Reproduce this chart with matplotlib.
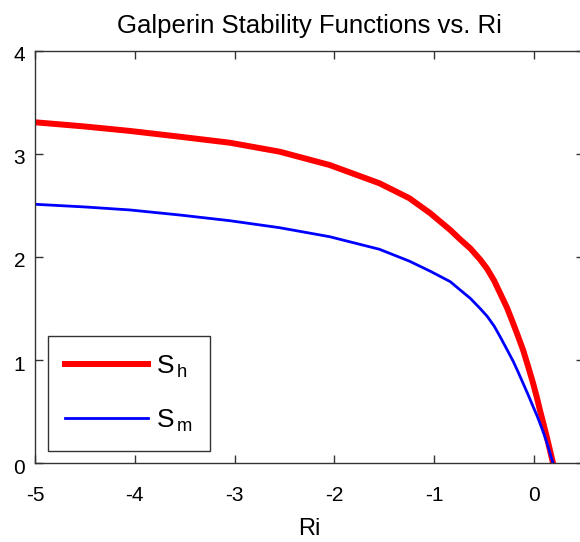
import matplotlib
matplotlib.use("Agg")
import matplotlib.pyplot as plt
from matplotlib.transforms import ScaledTranslation

plt.rcParams['font.family'] = ['Liberation Sans', 'DejaVu Sans']
plt.rcParams['axes.unicode_minus'] = False
plt.rcParams['mathtext.fontset'] = 'custom'
plt.rcParams['mathtext.rm'] = 'Liberation Sans'

# values
ri = [-5.0, -4.5, -4.05, -3.55, -3.05, -2.55, -2.05, -1.55, -1.25, -1.04,
      -0.84, -0.74, -0.64, -0.54, -0.47, -0.40, -0.34, -0.27, -0.21, -0.16,
      -0.11, -0.06, -0.01, 0.03, 0.06, 0.10, 0.13, 0.19]
s_h = [3.306, 3.265, 3.222, 3.166, 3.108, 3.021, 2.892, 2.715, 2.57, 2.424,
       2.262, 2.170, 2.084, 1.975, 1.885, 1.770, 1.648, 1.505, 1.357, 1.230,
       1.098, 0.940, 0.776, 0.630, 0.510, 0.360, 0.245, 0.0]
s_m = [2.511, 2.485, 2.456, 2.407, 2.352, 2.284, 2.197, 2.075, 1.96, 1.862,
       1.761, 1.680, 1.600, 1.500, 1.425, 1.330, 1.227, 1.100, 0.990, 0.885,
       0.775, 0.665, 0.550, 0.460, 0.385, 0.280, 0.195, 0.0]

xticks = [-5, -4, -3, -2, -1, 0]
yticks = [0, 1, 2, 3, 4]

fig = plt.figure(figsize=(5.8, 5.42), dpi=100)
ax = fig.add_axes([35 / 580, 0.1452, 549 / 580, 0.7613])

ax.plot(ri, s_h, color='#ff0000', linewidth=4.3, label=r'S$_\mathregular{\,h}$')
ax.plot(ri, s_m, color='#0000ff', linewidth=2.0, label=r'S$_\mathregular{\,m}$')

ax.set_xlim(-5, 0.5)
ax.set_ylim(0, 4)
ax.set_xticks(xticks)
ax.set_yticks(yticks)
ax.tick_params(direction='in', length=6, width=1, colors='#333333',
               labelcolor='black', labelsize=15, top=True, right=True)
ax.tick_params(axis='x', pad=16)
ax.tick_params(axis='y', pad=7)
# y labels sit a few pixels below their ticks in the reference
shift = ScaledTranslation(0, -3 / 100, fig.dpi_scale_trans)
for lbl in ax.get_yticklabels():
    lbl.set_transform(lbl.get_transform() + shift)
for sp in ax.spines.values():
    sp.set_color('#333333')
    sp.set_linewidth(1)

ax.set_title("Galperin Stability Functions vs. Ri", fontsize=18.5, pad=13)
ax.set_xlabel("Ri", fontsize=17, labelpad=10)

leg = ax.legend(loc='lower left', bbox_to_anchor=(0.0238, 0.0298),
                borderaxespad=0, fontsize=19, handlelength=3.15,
                handletextpad=0.3, labelspacing=1.05, borderpad=0.65,
                fancybox=False, framealpha=1)
leg.get_frame().set_edgecolor('#333333')
leg.get_frame().set_linewidth(1)

fig.savefig("out.png", dpi=100)
